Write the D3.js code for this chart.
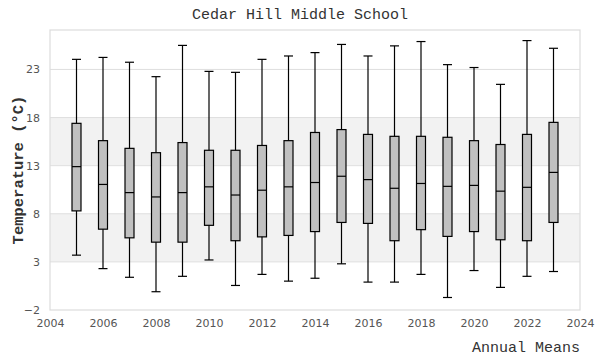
<!DOCTYPE html>
<html>
<head>
<meta charset="utf-8">
<script src="https://cdn.jsdelivr.net/npm/d3@7"></script>
<style>
  body { margin: 0; background: #fff; }
</style>
</head>
<body>
<div id="chart"></div>
<script>
// data
const years = [2005, 2006, 2007, 2008, 2009, 2010, 2011, 2012, 2013, 2014,
  2015, 2016, 2017, 2018, 2019, 2020, 2021, 2022, 2023];
const mins = [3.7, 2.3, 1.4, -0.1, 1.5, 3.2, 0.55, 1.7, 1.0, 1.3,
  2.8, 0.9, 0.9, 1.7, -0.7, 2.1, 0.35, 1.5, 2.0];
const q1s = [8.3, 6.4, 5.5, 5.05, 5.05, 6.8, 5.2, 5.6, 5.75, 6.15,
  7.1, 7.0, 5.2, 6.35, 5.65, 6.15, 5.3, 5.2, 7.1];
const medians = [12.9, 11.05, 10.2, 9.75, 10.2, 10.8, 9.95, 10.45, 10.8, 11.25,
  11.9, 11.55, 10.65, 11.15, 10.85, 10.95, 10.35, 10.75, 12.3];
const q3s = [17.4, 15.6, 14.8, 14.35, 15.4, 14.6, 14.6, 15.1, 15.6, 16.45,
  16.75, 16.25, 16.05, 16.05, 15.95, 15.6, 15.2, 16.25, 17.5];
const maxs = [24.05, 24.25, 23.75, 22.25, 25.5, 22.8, 22.7, 24.05, 24.4, 24.75,
  25.6, 24.4, 25.45, 25.9, 23.5, 23.2, 21.45, 26.0, 25.2];
const yTicks = [-2, 3, 8, 13, 18, 23];
const xTicks = [2004, 2006, 2008, 2010, 2012, 2014, 2016, 2018, 2020, 2022, 2024];

const data = years.map((y, i) => ({
  year: y, min: mins[i], q1: q1s[i], med: medians[i], q3: q3s[i], max: maxs[i]
}));

// svg領域設定
const svgWidth = 600;
const svgHeight = 360;
const svg = d3.select('#chart')
  .append('svg')
  .attr('width', svgWidth)
  .attr('height', svgHeight);

const margin = { top: 30, right: 20, bottom: 50, left: 50 };
const width = svgWidth - margin.left - margin.right;
const height = svgHeight - margin.top - margin.bottom;
const graph = svg.append('g')
  .attr('transform', `translate(${margin.left},${margin.top})`);

const x = d3.scaleLinear().domain([2004, 2024]).range([0, width]);
const y = d3.scaleLinear().domain([-2, 27.1]).range([height, 0]);

// bands
const bands = [[3, 8], [13, 18]];
graph.selectAll('rect.band')
  .data(bands)
  .enter().append('rect')
  .attr('class', 'band')
  .attr('x', 0)
  .attr('width', width)
  .attr('y', d => y(d[1]))
  .attr('height', d => y(d[0]) - y(d[1]))
  .attr('fill', '#f2f2f2');

// grid
graph.selectAll('line.grid')
  .data(yTicks.slice(1))
  .enter().append('line')
  .attr('class', 'grid')
  .attr('x1', 0).attr('x2', width)
  .attr('y1', d => y(d)).attr('y2', d => y(d))
  .attr('stroke', '#dfdfdf')
  .attr('stroke-width', 1);

// border
graph.append('rect')
  .attr('x', 0).attr('y', 0)
  .attr('width', width).attr('height', height)
  .attr('fill', 'none')
  .attr('stroke', '#dcdcdc')
  .attr('stroke-width', 1.2);

// axes
const xAxis = graph.append('g')
  .attr('transform', `translate(0,${height})`)
  .call(d3.axisBottom(x).tickValues(xTicks).tickFormat(d3.format('d')).tickSize(0).tickPadding(9));
const yAxis = graph.append('g')
  .call(d3.axisLeft(y).tickValues(yTicks).tickSize(0).tickPadding(10));
[xAxis, yAxis].forEach(a => {
  a.select('.domain').remove();
  a.selectAll('text')
    .attr('fill', '#555')
    .style('font-family', 'DejaVu Sans, sans-serif')
    .style('font-size', '11px');
});

// boxes
const bw = 9;
const boxes = graph.selectAll('g.box')
  .data(data)
  .enter().append('g')
  .attr('class', 'box')
  .attr('transform', d => `translate(${x(d.year)},0)`);

boxes.append('line')
  .attr('x1', 0).attr('x2', 0)
  .attr('y1', d => y(d.min)).attr('y2', d => y(d.max))
  .attr('stroke', '#000').attr('stroke-width', 1.2);
boxes.append('rect')
  .attr('x', -bw / 2).attr('width', bw)
  .attr('y', d => y(d.q3))
  .attr('height', d => y(d.q1) - y(d.q3))
  .attr('fill', '#c0c0c0')
  .attr('stroke', '#000').attr('stroke-width', 1.2);
['min', 'max', 'med'].forEach(k => {
  boxes.append('line')
    .attr('x1', -bw / 2).attr('x2', bw / 2)
    .attr('y1', d => y(d[k])).attr('y2', d => y(d[k]))
    .attr('stroke', '#000').attr('stroke-width', 1.2);
});

// titles
svg.append('text')
  .attr('x', svgWidth / 2)
  .attr('y', 19)
  .attr('text-anchor', 'middle')
  .attr('fill', '#333')
  .style('font-family', 'Liberation Mono, monospace')
  .style('font-size', '15px')
  .text('Cedar Hill Middle School');

svg.append('text')
  .attr('transform', `translate(23,${margin.top + height / 2}) rotate(-90)`)
  .attr('text-anchor', 'middle')
  .attr('fill', '#333')
  .style('font-family', 'Liberation Mono, monospace')
  .style('font-size', '15.5px')
  .style('font-weight', 'bold')
  .text('Temperature (°C)');

svg.append('text')
  .attr('x', margin.left + width)
  .attr('y', 352)
  .attr('text-anchor', 'end')
  .attr('fill', '#333')
  .style('font-family', 'Liberation Mono, monospace')
  .style('font-size', '15px')
  .text('Annual Means');
</script>
</body>
</html>
